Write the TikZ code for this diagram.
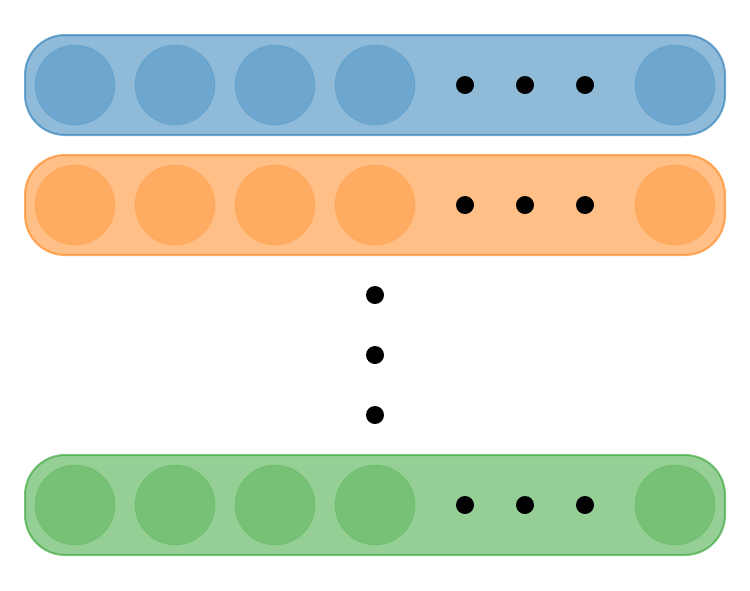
\documentclass[tikz,border=0pt]{standalone}
\definecolor{tblue}{RGB}{31,119,180}
\definecolor{torange}{RGB}{255,127,14}
\definecolor{tgreen}{RGB}{44,160,44}
\tikzset{
  bar/.style={draw=#1, draw opacity=0.6, fill=#1, fill opacity=0.5, line width=2pt, rounded corners=40pt, minimum width=700pt, minimum height=100pt, inner sep=0pt},
  unit/.style={circle, fill=#1, fill opacity=0.3, draw=#1, draw opacity=0.15, line width=1pt, minimum size=80pt, inner sep=0pt},
  dotc/.style={circle, fill=black, minimum size=18pt, inner sep=0pt}
}
\begin{document}
\begin{tikzpicture}[x=1pt,y=-1pt]
\useasboundingbox (0,0) rectangle (750,590);
\foreach \c/\yy/\n in {tblue/85/a, torange/205/b, tgreen/505/c}{
  \node[bar=\c] (bar\n) at (375,\yy) {};
  \node[unit=\c] (\n1) at (75,\yy) {};
  \node[unit=\c] (\n2) at (175,\yy) {};
  \node[unit=\c] (\n3) at (275,\yy) {};
  \node[unit=\c] (\n4) at (375,\yy) {};
  \node[unit=\c] (\n5) at (675,\yy) {};
  \node[dotc] (\n d1) at (465,\yy) {};
  \node[dotc] (\n d2) at (525,\yy) {};
  \node[dotc] (\n d3) at (585,\yy) {};
}
\node[dotc] (v1) at (375,295) {};
\node[dotc] (v2) at (375,355) {};
\node[dotc] (v3) at (375,415) {};
\end{tikzpicture}
\end{document}
